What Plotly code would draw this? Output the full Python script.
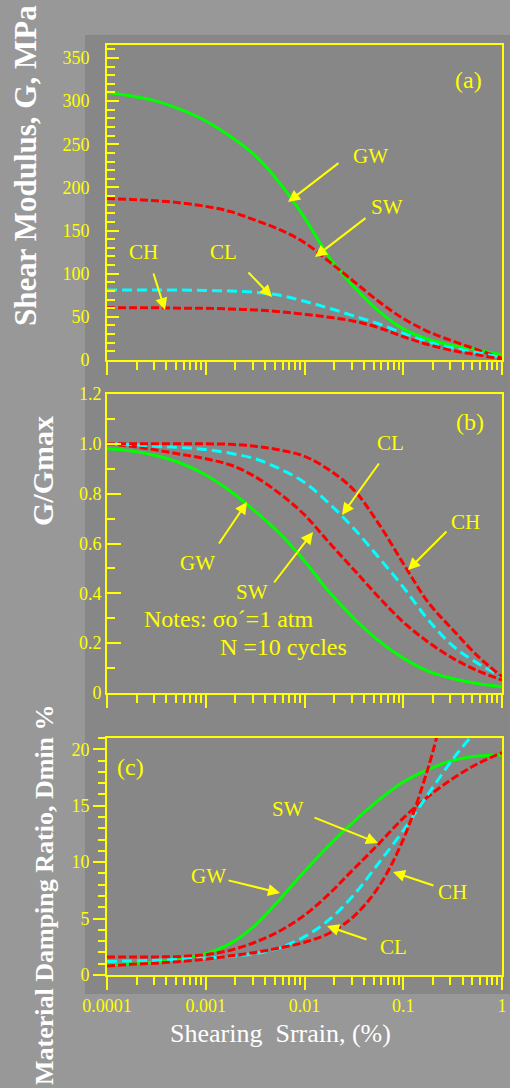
import plotly.graph_objects as go

# ---------------- data ----------------
STRAIN = [0.0001, 0.000178, 0.000316, 0.000562, 0.001, 0.00178, 0.00316, 0.00562,
          0.01, 0.0178, 0.0316, 0.0562, 0.1, 0.178, 0.316, 0.562, 1.0]

# (a) Shear modulus G, MPa
G_GW = [310, 306, 300, 290, 277, 259, 237, 205, 165, 119, 85, 57, 36, 24, 17, 11.5, 6]
G_SW = [187, 186, 184.5, 182, 178, 172, 162, 151, 136, 114, 91, 68, 48, 33, 22, 12, 2]
G_CL = [81, 81, 81, 81, 80.5, 80, 78.5, 75, 68, 60, 51, 42, 31, 21, 14, 8.5, 3]
G_CH = [60.5, 60.5, 60.5, 60, 60, 59, 58, 56, 53, 49.5, 45, 37.5, 27, 18, 11, 6, 1]

# (b) G/Gmax
R_GW = [0.98, 0.971, 0.952, 0.922, 0.875, 0.81, 0.73, 0.64, 0.53, 0.405, 0.30, 0.21, 0.14, 0.088, 0.058, 0.038, 0.025]
R_SW = [1.0, 0.99, 0.975, 0.958, 0.94, 0.915, 0.868, 0.80, 0.715, 0.603, 0.495, 0.385, 0.285, 0.205, 0.14, 0.09, 0.052]
R_CL = [1.0, 0.997, 0.99, 0.985, 0.977, 0.962, 0.94, 0.90, 0.845, 0.76, 0.66, 0.545, 0.425, 0.295, 0.19, 0.12, 0.065]
R_CH = [1.0, 1.0, 1.0, 1.0, 1.0, 0.998, 0.99, 0.975, 0.95, 0.895, 0.815, 0.68, 0.52, 0.365, 0.255, 0.15, 0.065]

# (c) Material damping ratio, %
D_GW = [0.9, 1.0, 1.15, 1.45, 1.9, 2.8, 4.4, 6.7, 9.2, 11.5, 13.6, 15.5, 17.1, 18.2, 19.0, 19.4, 19.5]
D_SW = [1.6, 1.6, 1.6, 1.65, 1.8, 2.2, 2.9, 3.9, 5.3, 7.2, 9.4, 11.6, 13.9, 15.8, 17.4, 18.7, 19.7]
STRAIN_CL_D = [0.0001, 0.000178, 0.000316, 0.000562, 0.001, 0.00178, 0.00316, 0.00562,
               0.01, 0.0178, 0.0316, 0.0562, 0.1, 0.178, 0.316, 0.474]
D_CL = [1.2, 1.25, 1.3, 1.4, 1.5, 1.65, 1.9, 2.4, 3.4, 4.9, 7.1, 9.9, 12.8, 16.0, 19.1, 21.0]
STRAIN_CH_D = [0.0001, 0.000178, 0.000316, 0.000562, 0.001, 0.00178, 0.00316, 0.00562,
               0.01, 0.0178, 0.0316, 0.0562, 0.1, 0.178, 0.22]
D_CH = [0.8, 0.95, 1.05, 1.2, 1.4, 1.7, 2.0, 2.4, 2.9, 3.7, 5.2, 7.8, 12.0, 18.3, 21.2]

X_TICKS = [1e-4, 1e-3, 1e-2, 1e-1, 1]
X_TICKTEXT = ["0.0001", "0.001", "0.01", "0.1", "1"]
YA_TICKS = [0, 50, 100, 150, 200, 250, 300, 350]
YB_TICKS = [0, 0.2, 0.4, 0.6, 0.8, 1.0, 1.2]
YB_TICKTEXT = ["0", "0.2", "0.4", "0.6", "0.8", "1.0", "1.2"]
YC_TICKS = [0, 5, 10, 15, 20]

# ---------------- style ----------------
W, H = 510, 1088
YEL = "#FFFF00"
GREEN = "#00FF00"
RED = "#FF0000"
CYAN = "#00FFFF"
OUTER = "#989898"
INNER = "#878787"
SERIF = "Liberation Serif, Times New Roman, serif"

RED_DASH = "8px,3px"
CYAN_DASH = "10px,5px"

fig = go.Figure()


def add(xs, ys, color, dash, xa, ya):
    fig.add_trace(go.Scatter(
        x=xs, y=ys, mode="lines", xaxis=xa, yaxis=ya, showlegend=False,
        hoverinfo="skip",
        line=dict(color=color, width=3, dash=dash, shape="spline", smoothing=1.0)))


# panel (a)
add(STRAIN, G_GW, GREEN, "solid", "x", "y")
add(STRAIN, G_SW, RED, RED_DASH, "x", "y")
add(STRAIN, G_CL, CYAN, CYAN_DASH, "x", "y")
add(STRAIN, G_CH, RED, RED_DASH, "x", "y")
# panel (b)
add(STRAIN, R_GW, GREEN, "solid", "x2", "y2")
add(STRAIN, R_SW, RED, RED_DASH, "x2", "y2")
add(STRAIN, R_CL, CYAN, CYAN_DASH, "x2", "y2")
add(STRAIN, R_CH, RED, RED_DASH, "x2", "y2")
# panel (c)
add(STRAIN, D_GW, GREEN, "solid", "x3", "y3")
add(STRAIN, D_SW, RED, RED_DASH, "x3", "y3")
add(STRAIN_CL_D, D_CL, CYAN, CYAN_DASH, "x3", "y3")
add(STRAIN_CH_D, D_CH, RED, RED_DASH, "x3", "y3")

minor_x = [m * 10 ** e for e in range(-4, 0) for m in range(2, 10)]


def px_x(p):
    return p / W


def px_y(p):
    return 1 - p / H


XDOM = [px_x(107), px_x(502)]


def xcfg(anchor, show):
    return dict(
        type="log", range=[-4, 0], domain=XDOM, anchor=anchor, automargin=False,
        showline=True, mirror=True, linecolor=YEL, linewidth=2,
        ticks="outside", ticklen=13, tickwidth=2, tickcolor=YEL,
        tickvals=X_TICKS, ticktext=X_TICKTEXT, showticklabels=show,
        tickfont=dict(family=SERIF, size=18, color=YEL),
        showgrid=False, zeroline=False,
        minor=dict(tickvals=minor_x, ticks="outside", ticklen=8, tickwidth=2,
                   tickcolor=YEL, showgrid=False))


def ycfg(anchor, dom, rng, tickvals, ticktext, ticks, major_len, minor_dtick, minor_len, standoff):
    d = dict(
        domain=dom, anchor=anchor, range=rng, automargin=False,
        showline=True, mirror=True, linecolor=YEL, linewidth=2,
        ticks=ticks, ticklen=major_len, tickwidth=2, tickcolor=YEL,
        tickvals=tickvals, ticktext=ticktext,
        tickfont=dict(family=SERIF, size=18, color=YEL),
        showgrid=False, zeroline=False,
        minor=dict(dtick=minor_dtick, tick0=0, ticks=ticks, ticklen=minor_len,
                   tickwidth=2, tickcolor=YEL, showgrid=False))
    if standoff is not None:
        d["ticklabelstandoff"] = standoff
    return d


layout = dict(
    width=W, height=H, margin=dict(l=0, r=0, t=0, b=0, autoexpand=False),
    paper_bgcolor=OUTER, plot_bgcolor=INNER, showlegend=False,
    xaxis=xcfg("y", False),
    xaxis2=xcfg("y2", False),
    xaxis3=xcfg("y3", True),
    yaxis=ycfg("x", [px_y(360), px_y(45)], [0, 365], YA_TICKS,
               [str(v) for v in YA_TICKS], "inside", 12, 10, 8, 12),
    yaxis2=ycfg("x2", [px_y(693), px_y(394)], [0, 1.2], YB_TICKS,
                YB_TICKTEXT, "inside", 14, 0.1, 8, None),
    yaxis3=ycfg("x3", [px_y(975), px_y(738)], [0, 21], YC_TICKS,
                [str(v) for v in YC_TICKS], "outside", 12, 1, 7, None),
)
fig.update_layout(**layout)

# inner darker panel
fig.add_shape(type="rect", xref="paper", yref="paper",
              x0=px_x(85), x1=1.0, y0=px_y(994), y1=px_y(35),
              fillcolor=INNER, line=dict(width=0), layer="below")

annos = []


def text(t, cx, cy, size=21, color=YEL, xanchor="center", bold=False, angle=0):
    annos.append(dict(
        text=("<b>%s</b>" % t) if bold else t, x=px_x(cx), y=px_y(cy),
        xref="paper", yref="paper", showarrow=False, xanchor=xanchor,
        yanchor="middle", textangle=angle,
        font=dict(family=SERIF, size=size, color=color)))


def arrow(tail, head):
    annos.append(dict(
        text="", x=px_x(head[0]), y=px_y(head[1]), xref="paper", yref="paper",
        ax=tail[0] - head[0], ay=tail[1] - head[1], showarrow=True,
        arrowhead=2, arrowsize=1.2, arrowwidth=2, arrowcolor=YEL))


# panel (a)
text("(a)", 468, 80, 24)
text("GW", 370, 156)
text("SW", 387, 207)
text("CH", 143, 252)
text("CL", 223, 252)
arrow((340, 162), (288, 202))
arrow((367, 217), (315, 257))
arrow((153, 272), (165, 310))
arrow((247, 271), (272, 297))
# panel (b)
text("(b)", 470, 422, 24)
text("CL", 390, 443)
text("CH", 465, 522)
text("GW", 197, 563)
text("SW", 252, 592)
arrow((380, 462), (342, 515))
arrow((448, 530), (408, 570))
arrow((218, 545), (247, 502))
arrow((273, 584), (313, 532))
text("Notes: σo´=1 atm", 142, 619, 24, xanchor="left")
text("N =10 cycles", 218, 647, 24, xanchor="left")
# panel (c)
text("(c)", 130, 767, 24)
text("SW", 288, 809)
text("GW", 208, 876)
text("CH", 452, 892)
text("CL", 393, 947)
arrow((313, 817), (378, 843))
arrow((227, 880), (280, 893))
arrow((435, 886), (393, 872))
arrow((368, 940), (327, 926))

# axis titles
text("Shear Modulus, G, MPa", 25, 166, 31, color="#FFFFFF", bold=True, angle=-90)
text("G/Gmax", 43, 471, 30, color="#FFFFFF", bold=True, angle=-90)
text("Material Damping Ratio, Dmin %", 44, 895, 26, color="#FFFFFF", bold=True, angle=-90)
text("Shearing\u00a0 Srrain, (%)", 280, 1033, 26, color="#FFFFFF")

fig.update_layout(annotations=annos)
fig.write_html("out.html")
